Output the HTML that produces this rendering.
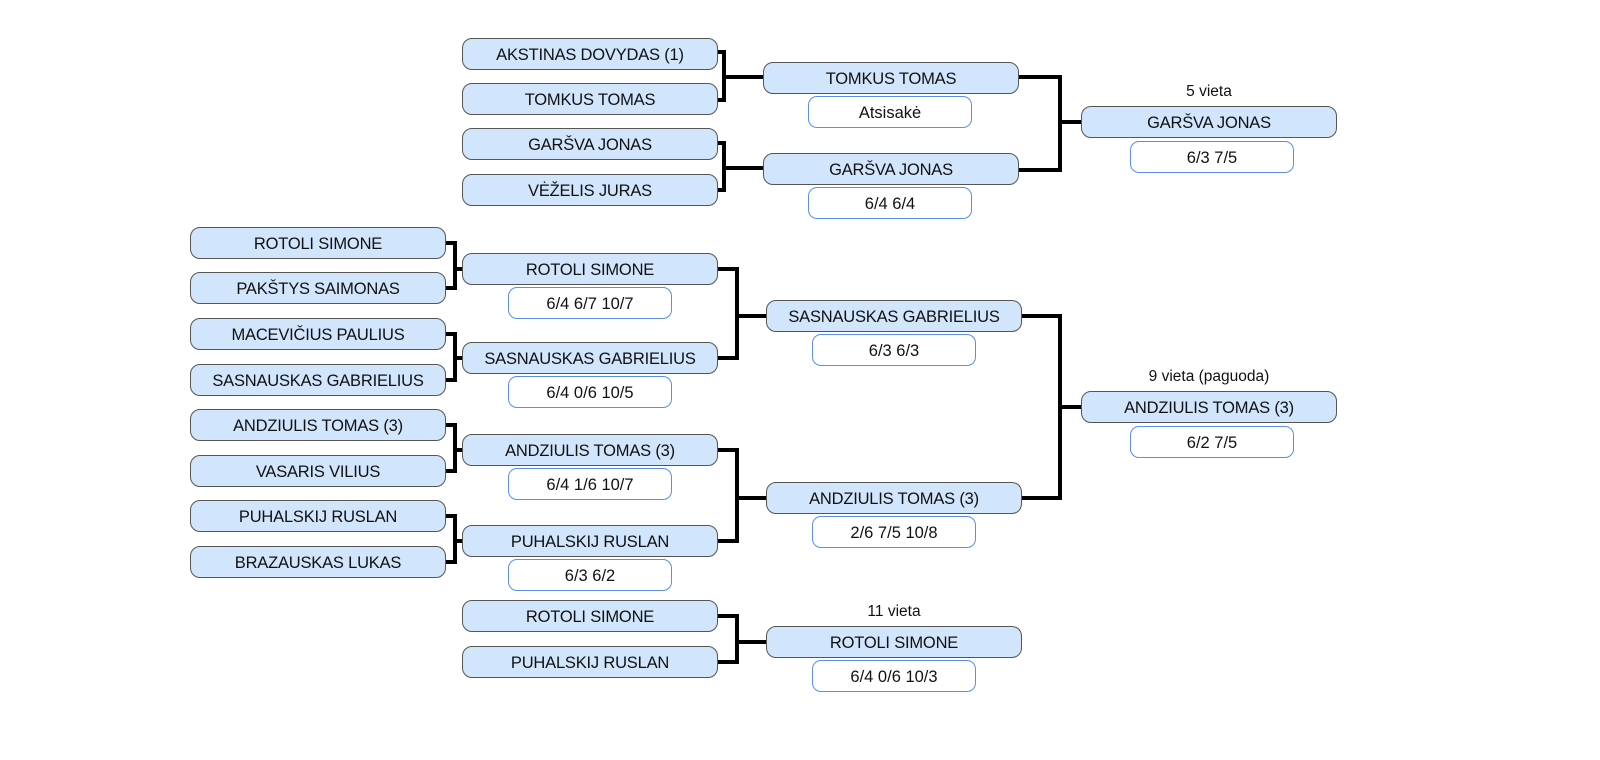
<!DOCTYPE html>
<html><head><meta charset="utf-8"><style>
body{margin:0;width:1600px;height:760px;background:#fff;position:relative;overflow:hidden;font-family:"Liberation Sans",sans-serif;}
.n{position:absolute;width:254px;height:30px;background:#d1e5fc;border:1px solid #555;border-radius:10px;text-align:center;line-height:32px;font-size:16.5px;color:#111;letter-spacing:-0.2px;}
.s{position:absolute;width:162px;height:30px;background:#fff;border:1px solid #5a8ee8;border-radius:9px;text-align:center;line-height:32px;font-size:16.5px;color:#111;}
.l{position:absolute;width:256px;text-align:center;font-size:15.5px;color:#111;}
svg{position:absolute;left:0;top:0;}
</style></head><body>
<svg width="1600" height="760"><g stroke="#000" stroke-width="4" fill="none">
<polyline points="718,52 724,52 724,100 718,100"/><line x1="724" y1="77" x2="763" y2="77"/>
<polyline points="718,143 724,143 724,190 718,190"/><line x1="724" y1="168" x2="763" y2="168"/>
<polyline points="1019,77 1060,77 1060,170 1019,170"/><line x1="1060" y1="122" x2="1081" y2="122"/>
<polyline points="446,243 455,243 455,288 446,288"/><line x1="455" y1="269" x2="462" y2="269"/>
<polyline points="446,334 455,334 455,380 446,380"/><line x1="455" y1="358" x2="462" y2="358"/>
<polyline points="446,425 455,425 455,471 446,471"/><line x1="455" y1="450" x2="462" y2="450"/>
<polyline points="446,516 455,516 455,562 446,562"/><line x1="455" y1="541" x2="462" y2="541"/>
<polyline points="718,269 737,269 737,358 718,358"/><line x1="737" y1="316" x2="766" y2="316"/>
<polyline points="718,450 737,450 737,541 718,541"/><line x1="737" y1="498" x2="766" y2="498"/>
<polyline points="1022,316 1060,316 1060,498 1022,498"/><line x1="1060" y1="407" x2="1081" y2="407"/>
<polyline points="718,616 737,616 737,662 718,662"/><line x1="737" y1="642" x2="766" y2="642"/>
</g></svg>

<div class="n" style="left:462px;top:38px">AKSTINAS DOVYDAS (1)</div>
<div class="n" style="left:462px;top:83px">TOMKUS TOMAS</div>
<div class="n" style="left:462px;top:128px">GARŠVA JONAS</div>
<div class="n" style="left:462px;top:174px">VĖŽELIS JURAS</div>
<div class="n" style="left:763px;top:62px">TOMKUS TOMAS</div>
<div class="s" style="left:808px;top:96px">Atsisakė</div>
<div class="n" style="left:763px;top:153px">GARŠVA JONAS</div>
<div class="s" style="left:808px;top:187px">6/4 6/4</div>
<div class="l" style="left:1081px;top:83px">5 vieta</div>
<div class="n" style="left:1081px;top:106px">GARŠVA JONAS</div>
<div class="s" style="left:1130px;top:141px">6/3 7/5</div>

<div class="n" style="left:190px;top:227px">ROTOLI SIMONE</div>
<div class="n" style="left:190px;top:272px">PAKŠTYS SAIMONAS</div>
<div class="n" style="left:190px;top:318px">MACEVIČIUS PAULIUS</div>
<div class="n" style="left:190px;top:364px">SASNAUSKAS GABRIELIUS</div>
<div class="n" style="left:190px;top:409px">ANDZIULIS TOMAS (3)</div>
<div class="n" style="left:190px;top:455px">VASARIS VILIUS</div>
<div class="n" style="left:190px;top:500px">PUHALSKIJ RUSLAN</div>
<div class="n" style="left:190px;top:546px">BRAZAUSKAS LUKAS</div>

<div class="n" style="left:462px;top:253px">ROTOLI SIMONE</div>
<div class="s" style="left:508px;top:287px">6/4 6/7 10/7</div>
<div class="n" style="left:462px;top:342px">SASNAUSKAS GABRIELIUS</div>
<div class="s" style="left:508px;top:376px">6/4 0/6 10/5</div>
<div class="n" style="left:462px;top:434px">ANDZIULIS TOMAS (3)</div>
<div class="s" style="left:508px;top:468px">6/4 1/6 10/7</div>
<div class="n" style="left:462px;top:525px">PUHALSKIJ RUSLAN</div>
<div class="s" style="left:508px;top:559px">6/3 6/2</div>

<div class="n" style="left:766px;top:300px">SASNAUSKAS GABRIELIUS</div>
<div class="s" style="left:812px;top:334px">6/3 6/3</div>
<div class="n" style="left:766px;top:482px">ANDZIULIS TOMAS (3)</div>
<div class="s" style="left:812px;top:516px">2/6 7/5 10/8</div>

<div class="l" style="left:1081px;top:368px">9 vieta (paguoda)</div>
<div class="n" style="left:1081px;top:391px">ANDZIULIS TOMAS (3)</div>
<div class="s" style="left:1130px;top:426px">6/2 7/5</div>

<div class="n" style="left:462px;top:600px">ROTOLI SIMONE</div>
<div class="n" style="left:462px;top:646px">PUHALSKIJ RUSLAN</div>
<div class="l" style="left:766px;top:603px">11 vieta</div>
<div class="n" style="left:766px;top:626px">ROTOLI SIMONE</div>
<div class="s" style="left:812px;top:660px">6/4 0/6 10/3</div>
</body></html>
